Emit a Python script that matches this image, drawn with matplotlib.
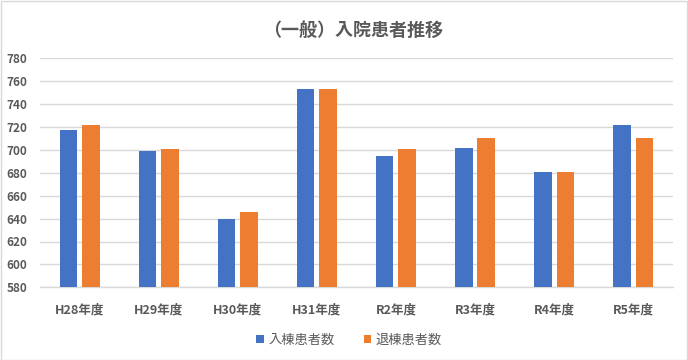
import matplotlib
matplotlib.use("Agg")
import matplotlib.pyplot as plt
import numpy as np
from matplotlib.patches import Rectangle

plt.rcParams['font.family'] = ['Noto Sans CJK JP', 'DejaVu Sans']

categories = ["H28年度", "H29年度", "H30年度", "H31年度", "R2年度", "R3年度", "R4年度", "R5年度"]
admissions = [717, 699, 640, 753, 695, 702, 681, 722]
discharges = [722, 701, 646, 753, 701, 710, 681, 710]
series_names = ["入棟患者数", "退棟患者数"]
yticks = list(range(580, 781, 20))

blue = "#4472C4"
orange = "#ED7D31"
grey_text = "#595959"
grid_col = "#D9D9D9"

W, H = 688, 360
fig = plt.figure(figsize=(W / 100, H / 100), dpi=100)
fig.patch.set_facecolor("white")
fig.add_artist(Rectangle((0.5 / W, 0.5 / H), 1 - 1.5 / W, 1 - 1.5 / H, transform=fig.transFigure,
                         fill=False, edgecolor=grid_col, linewidth=1))

left, right, top, bottom = 40, 672.7, 58.3, 287.3
ax = fig.add_axes([left / W, 1 - bottom / H, (right - left) / W, (bottom - top) / H])

x = np.arange(len(categories))
bw = 0.222
off = 0.142
ax.bar(x - off, admissions, width=bw, color=blue, label=series_names[0], zorder=3)
ax.bar(x + off, discharges, width=bw, color=orange, label=series_names[1], zorder=3)

ax.set_ylim(580, 780)
ax.set_xlim(-0.5, len(categories) - 0.5)
ax.set_yticks(yticks)
ax.set_yticklabels([str(v) for v in yticks], fontsize=8.5, color=grey_text, fontweight='bold')
ax.set_xticks(x)
ax.set_xticklabels(categories, fontsize=9, color=grey_text, fontweight='bold')
ax.tick_params(axis='both', length=0)
ax.tick_params(axis='y', pad=9)
ax.tick_params(axis='x', pad=12)
ax.grid(axis='y', color=grid_col, linewidth=1, zorder=0)
for s in ["top", "right", "left"]:
    ax.spines[s].set_visible(False)
ax.spines["bottom"].set_color(grid_col)
ax.spines["bottom"].set_linewidth(1)

fig.text(353 / W, 1 - 30 / H, "（一般）入院患者推移", ha='center', va='center',
         fontsize=13, color=grey_text, fontweight='bold')

leg = fig.legend(loc='center', bbox_to_anchor=(349 / W, 1 - 340 / H), ncol=2, frameon=False,
                 fontsize=9.5, handlelength=0.6, handleheight=0.6, handletextpad=0.3,
                 columnspacing=2.2)
for t in leg.get_texts():
    t.set_color(grey_text)

fig.savefig("out.png", dpi=100)
